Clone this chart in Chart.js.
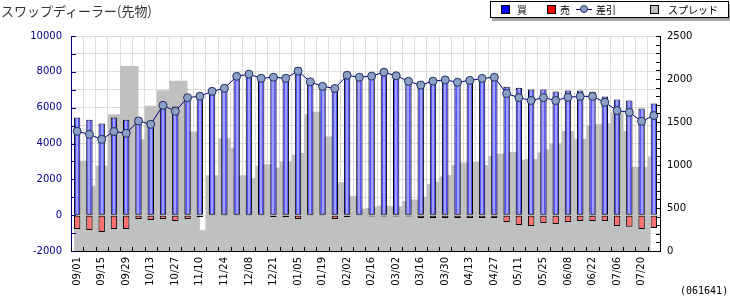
<!DOCTYPE html>
<html lang="ja">
<head>
<meta charset="utf-8">
<title>スワップディーラー(先物)</title>
<script src="https://cdn.jsdelivr.net/npm/chart.js@4.4.0/dist/chart.umd.min.js"></script>
<style>
    html, body { margin: 0; padding: 0; background: #fff; }
    #wrap { position: relative; width: 730px; height: 300px; overflow: hidden; }
    #mainChart { position: absolute; left: 0; top: 0; }
    .title { position: absolute; left: 1px; top: 1px; font: 13px 'Noto Sans CJK JP', sans-serif; color: #333; }
    .legend { position: absolute; left: 490px; top: 1px; width: 237px; height: 15px; border: 1px solid #000;
              background: #fff; box-shadow: 2px 3px 0 #a8a8a8; font: 10px 'Noto Sans CJK JP', sans-serif; }
    .legend span { position: absolute; top: 0; line-height: 15px; }
    .legend .sw { position: absolute; top: 3px; width: 7px; height: 7px; border: 1px solid #000; }
    .legend .ln { position: absolute; top: 7px; left: 85px; width: 16px; height: 1px; background: #000080; }
    .legend .dot { position: absolute; top: 3px; left: 89px; width: 6px; height: 6px; border: 1px solid #203060;
                   border-radius: 50%; background: #8c9fc4; }
    .code { position: absolute; left: 680px; top: 285px; font: 10px 'DejaVu Sans Mono', monospace; color: #000; }
</style>
</head>
<body>
<div id="wrap">
    <canvas id="mainChart" width="730" height="300"></canvas>
    <div class="title">スワップディーラー(先物)</div>
    <div class="legend">
        <div class="sw" style="left:10px;background:#0000ff"></div><span style="left:26px">買</span>
        <div class="sw" style="left:56px;background:#ff0000"></div><span style="left:69px">売</span>
        <div class="ln"></div><div class="dot"></div><span style="left:105px">差引</span>
        <div class="sw" style="left:159px;background:#c0c0c0"></div><span style="left:177px">スプレッド</span>
    </div>
    <div class="code">(061641)</div>
</div>
<script>
// weekly categories (every other one is labelled)
const categories = [
    '09/01', '09/08', '09/15', '09/22', '09/29', '10/06', '10/13', '10/20', '10/27', '11/03', '11/10', '11/17',
    '11/24', '12/01', '12/08', '12/15', '12/21', '12/28', '01/05', '01/12', '01/19', '01/26', '02/02', '02/09',
    '02/16', '02/23', '03/02', '03/09', '03/16', '03/23', '03/30', '04/06', '04/13', '04/20', '04/27', '05/04',
    '05/11', '05/18', '05/25', '06/01', '06/08', '06/15', '06/22', '06/29', '07/06', '07/13', '07/20', '07/27'
];

// 買 (left axis)
const buyValues = [
    5450, 5330, 5110, 5450, 5330, 5450, 5280, 6320, 6060, 6710, 6750, 6970,
    7070, 7830, 7970, 7740, 7830, 7780, 8260, 7500, 7270, 7200, 7890, 7800,
    7850, 8040, 7850, 7570, 7380, 7630, 7670, 7560, 7650, 7780, 7840, 7170,
    7110, 7010, 7010, 6900, 6960, 6960, 6890, 6620, 6450, 6400, 5950, 6230
];

// 売 (left axis)
const sellValues = [
    -775, -830, -940, -775, -775, -210, -270, -210, -330, -210, -110, -40,
    -20, -20, -20, -20, -100, -100, -220, -20, -20, -215, -100, -20,
    -70, -70, -75, -75, -160, -160, -160, -160, -160, -160, -160, -380,
    -550, -605, -440, -495, -380, -320, -320, -330, -605, -650, -775, -710
];

// 差引 (left axis)
const netValues = [
    4680, 4510, 4230, 4670, 4570, 5260, 5070, 6130, 5800, 6560, 6640, 6910,
    7080, 7750, 7870, 7640, 7700, 7640, 8040, 7440, 7190, 7070, 7810, 7700,
    7760, 7980, 7780, 7470, 7260, 7480, 7550, 7420, 7520, 7630, 7700, 6790,
    6560, 6400, 6560, 6400, 6580, 6630, 6630, 6300, 5840, 5740, 5240, 5560
];

// スプレッド (right axis), two readings per week
const spreadValues = [
    1050, 1050, 1050, 760, 990, 990, 1590, 1590, 2150, 2150, 2150, 1300,
    1690, 1690, 1870, 1870, 1980, 1980, 1980, 1390, 1390, 240, 880, 880,
    1310, 1310, 1200, 880, 880, 850, 990, 1010, 1010, 970, 1040, 1040,
    1120, 1140, 1590, 1620, 1620, 1330, 1330, 800, 800, 640, 640, 490,
    500, 515, 530, 525, 520, 520, 580, 600, 600, 630, 780, 805,
    865, 885, 1000, 1025, 1025, 1035, 1035, 1000, 1105, 1130, 1130, 1150,
    1150, 1060, 1070, 1070, 1145, 1180, 1250, 1250, 1395, 1395, 1305, 1305,
    1455, 1475, 1475, 1485, 1610, 1610, 1395, 980, 980, 980, 1100, null
];

const spreadSlots = categories.flatMap(c => [c + 'a', c + 'b']);

Chart.defaults.font.family = "'DejaVu Sans', sans-serif";
Chart.defaults.font.size = 10;

// ========================================
// PLUGINS - inner tick marks, bar highlight
// ========================================
const innerTicks = {
    id: 'innerTicks',
    afterDraw(chart) {
        const { ctx, chartArea: a, scales } = chart;
        ctx.save();
        ctx.lineWidth = 1;

        ctx.strokeStyle = '#000080';
        for (let v = -2000; v <= 10000; v += 1000) {
            const y = Math.round(scales.y.getPixelForValue(v)) + 0.5;
            ctx.beginPath(); ctx.moveTo(a.left, y); ctx.lineTo(a.left + 5, y); ctx.stroke();
        }

        ctx.strokeStyle = '#000';
        for (let v = 0; v <= 2500; v += 100) {
            const y = Math.round(scales.y2.getPixelForValue(v)) + 0.5;
            ctx.beginPath(); ctx.moveTo(a.right, y); ctx.lineTo(a.right - 4, y); ctx.stroke();
        }

        const half = (scales.x.getPixelForValue(1) - scales.x.getPixelForValue(0)) / 2;
        for (let i = 0; i <= categories.length; i++) {
            const x = Math.round(scales.x.getPixelForValue(i) - half) + 0.5;
            ctx.beginPath(); ctx.moveTo(x, a.bottom); ctx.lineTo(x, a.bottom - 4); ctx.stroke();
        }
        ctx.restore();
    }
};

const barShine = {
    id: 'barShine',
    afterDatasetDraw(chart, args) {
        if (args.index !== 0) return;
        const { ctx } = chart;
        ctx.save();
        ctx.fillStyle = '#a0a0ff';
        args.meta.data.forEach(el => {
            const { x, y, base } = el.getProps(['x', 'y', 'base'], true);
            ctx.fillRect(Math.round(x) - 1, y + 1, 2, base - y - 2);
        });
        ctx.restore();
    }
};

// ========================================
// CHART INITIALIZATION
// ========================================
const ctx = document.getElementById('mainChart').getContext('2d');

new Chart(ctx, {
    type: 'bar',
    data: {
        labels: categories,
        datasets: [
            {
                label: '買',
                data: buyValues,
                backgroundColor: '#5656ff',
                borderColor: '#000',
                borderWidth: 1,
                borderSkipped: false,
                grouped: false,
                categoryPercentage: 1,
                barPercentage: 0.52,
                order: 2
            },
            {
                label: '売',
                data: sellValues,
                backgroundColor: '#ff7070',
                borderColor: '#000',
                borderWidth: 1,
                borderSkipped: false,
                grouped: false,
                categoryPercentage: 1,
                barPercentage: 0.52,
                order: 2
            },
            {
                type: 'line',
                label: '差引',
                data: netValues,
                borderColor: '#000080',
                borderWidth: 1,
                pointRadius: 4,
                pointBackgroundColor: '#8c9fc4',
                pointBorderColor: '#203060',
                pointBorderWidth: 1,
                tension: 0,
                order: 1
            },
            {
                type: 'line',
                label: 'スプレッド',
                data: spreadValues,
                xAxisID: 'x2',
                yAxisID: 'y2',
                stepped: 'middle',
                fill: 'origin',
                backgroundColor: '#c0c0c0',
                borderColor: '#c0c0c0',
                borderWidth: 0,
                pointRadius: 0,
                order: 3
            }
        ]
    },
    plugins: [innerTicks, barShine],
    options: {
        responsive: false,
        animation: false,
        layout: { padding: { top: 36, left: 0, right: 0, bottom: 0 } },
        plugins: {
            legend: { display: false },
            tooltip: { enabled: false }
        },
        scales: {
            x: {
                type: 'category',
                offset: true,
                grid: { color: '#dcdcdc', offset: true, drawTicks: false },
                border: { color: '#000' },
                ticks: {
                    color: '#000',
                    autoSkip: false,
                    minRotation: 90,
                    maxRotation: 90,
                    padding: 6,
                    callback: (v, i) => (i % 2 === 0 ? categories[i] : '')
                },
                afterFit: s => { s.height = 49; }
            },
            x2: {
                type: 'category',
                labels: spreadSlots,
                offset: true,
                display: false,
                grid: { display: false }
            },
            y: {
                position: 'left',
                min: -2000,
                max: 10000,
                grid: { color: '#dcdcdc', drawTicks: false },
                border: { color: '#000080' },
                ticks: {
                    stepSize: 1000,
                    color: '#000080',
                    padding: 9,
                    callback: v => (v % 2000 === 0 ? String(v) : '')
                },
                afterFit: s => { s.width = 71; }
            },
            y2: {
                position: 'right',
                min: 0,
                max: 2500,
                grid: { display: false, drawTicks: false },
                border: { display: true, color: '#000' },
                ticks: { stepSize: 500, color: '#000', padding: 7, callback: v => String(v) },
                afterFit: s => { s.width = 70; }
            }
        }
    }
});
</script>
</body>
</html>
